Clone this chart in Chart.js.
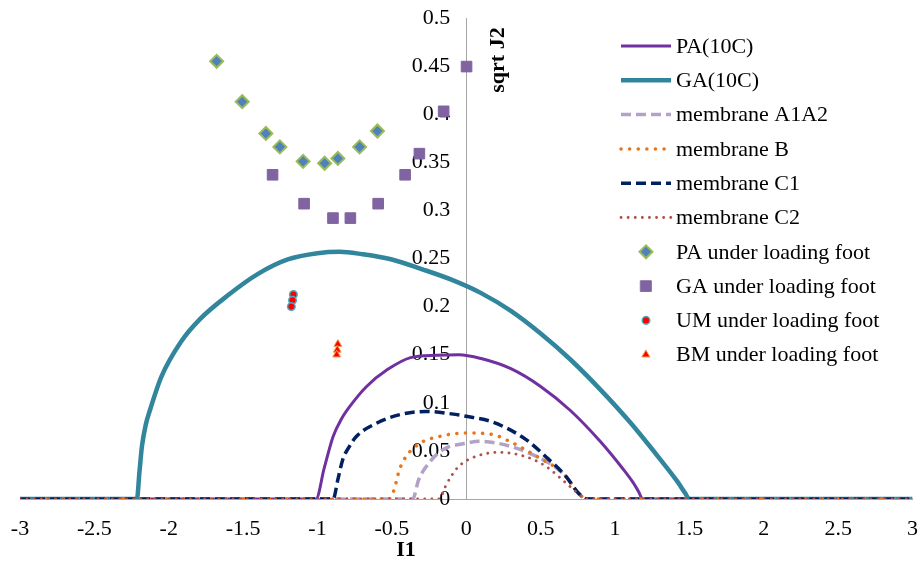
<!DOCTYPE html>
<html>
<head>
<meta charset="utf-8">
<script src="https://cdn.jsdelivr.net/npm/chart.js@4.4.1/dist/chart.umd.min.js"></script>
<style>
  html, body { margin: 0; padding: 0; background: #fff; }
  #chart { display: block; }
</style>
</head>
<body>
<canvas id="chart" width="921" height="563"></canvas>
<script>
// Yield curves (I1 -> sqrt J2)
const paCurveX = [-3, -1.01, -0.955, -0.895, -0.84, -0.784, -0.67, -0.53, -0.375, -0.2, -0.05, 0.1, 0.3, 0.5, 0.7, 0.9, 1.05, 1.12, 1.16, 1.185, 3];
const paCurveY = [0, 0, 0.032, 0.065, 0.083, 0.096, 0.117, 0.1345, 0.147, 0.1495, 0.15, 0.146, 0.1355, 0.117, 0.092, 0.06, 0.032, 0.0175, 0.0072, 0, 0];

const gaCurveX = [-3, -2.214, -2.197, -2.18, -2.155, -2.125, -2.05, -1.92, -1.79, -1.6, -1.4, -1.2, -1.0, -0.85, -0.7, -0.5, -0.3, -0.1, 0.1, 0.3, 0.5, 0.7, 0.9, 1.1, 1.3, 1.42, 1.47, 1.5, 3];
const gaCurveY = [0, 0, 0.028, 0.055, 0.077, 0.093, 0.127, 0.163, 0.187, 0.212, 0.234, 0.249, 0.2555, 0.257, 0.2545, 0.249, 0.239, 0.228, 0.214, 0.1955, 0.172, 0.145, 0.114, 0.08, 0.042, 0.018, 0.0065, 0, 0];

const a1a2X = [-3, -0.36, -0.32, -0.25, -0.16, 0, 0.09, 0.29, 0.49, 0.6, 0.67, 0.755, 0.81, 3];
const a1a2Y = [0, 0, 0.02, 0.0375, 0.051, 0.058, 0.06, 0.055, 0.043, 0.033, 0.0235, 0.006, 0, 0];

const memBX = [-3, -0.52, -0.485, -0.45, -0.405, -0.31, -0.18, 0, 0.177, 0.29, 0.4, 0.51, 0.6, 0.67, 0.755, 0.81, 3];
const memBY = [0, 0, 0.0097, 0.03, 0.044, 0.058, 0.065, 0.0687, 0.067, 0.06, 0.051, 0.041, 0.033, 0.0235, 0.006, 0, 0];

const c1X = [-3, -0.895, -0.862, -0.83, -0.784, -0.739, -0.6, -0.445, -0.27, -0.1, 0, 0.177, 0.4, 0.535, 0.67, 0.755, 0.81, 3];
const c1Y = [0, 0, 0.021, 0.041, 0.055, 0.065, 0.079, 0.0877, 0.091, 0.0885, 0.086, 0.08, 0.062, 0.044, 0.0235, 0.006, 0, 0];

const c2X = [-3, -0.18, -0.14, -0.1, -0.05, 0.06, 0.22, 0.4, 0.535, 0.67, 0.78, 0.8, 3];
const c2Y = [0, 0, 0.013, 0.024, 0.034, 0.044, 0.0485, 0.044, 0.034, 0.0167, 0.002, 0, 0];

// Measured stress states under the loading foot
const paFootX = [-1.678, -1.506, -1.347, -1.253, -1.097, -0.952, -0.863, -0.717, -0.597];
const paFootY = [0.455, 0.413, 0.38, 0.366, 0.351, 0.349, 0.354, 0.366, 0.3825];

const gaFootX = [-1.302, -1.09, -0.896, -0.779, -0.592, -0.411, -0.315, -0.152, 0.002];
const gaFootY = [0.337, 0.307, 0.292, 0.292, 0.307, 0.337, 0.359, 0.403, 0.4495];

const umFootX = [-1.162, -1.168, -1.176];
const umFootY = [0.2125, 0.2065, 0.2];

const bmFootX = [-0.863, -0.867, -0.871];
const bmFootY = [0.161, 0.155, 0.15];

const xMin = -3, xMax = 3, xStep = 0.5;
const yMin = 0, yMax = 0.5, yStep = 0.05;

const FONT = "'Liberation Serif', 'Times New Roman', serif";
const Y_LABEL_GAP = 16; // y tick labels sit left of the crossing axis

const toPoints = (xs, ys) => xs.map((x, i) => ({ x, y: ys[i] }));

const curve = (label, xs, ys, color, width, dash, cap) => ({
    label,
    data: toPoints(xs, ys),
    showLine: true,
    borderColor: color,
    backgroundColor: color,
    borderWidth: width,
    borderDash: dash || [],
    borderCapStyle: cap || 'butt',
    cubicInterpolationMode: 'monotone',
    pointRadius: 0,
    pointHoverRadius: 0,
    fill: false,
});

const markers = (label, xs, ys, style, radius, fillColor, borderColor, borderWidth) => ({
    label,
    data: toPoints(xs, ys),
    showLine: false,
    pointStyle: style,
    pointRadius: radius,
    pointHoverRadius: radius,
    backgroundColor: fillColor,
    borderColor: borderColor,
    pointBorderWidth: borderWidth,
    borderWidth: borderWidth,
});

const datasets = [
    curve('PA(10C)', paCurveX, paCurveY, '#7030A0', 3),
    curve('GA(10C)', gaCurveX, gaCurveY, '#31859C', 4.5),
    curve('membrane A1A2', a1a2X, a1a2Y, '#B3A2C7', 3.5, [10, 5]),
    curve('membrane B', memBX, memBY, '#E8751A', 3.5, [0.1, 8.5], 'round'),
    curve('membrane C1', c1X, c1Y, '#002060', 3.5, [10, 5]),
    curve('membrane C2', c2X, c2Y, '#B0504A', 2.8, [0.1, 7], 'round'),
    markers('PA under loading foot', paFootX, paFootY, 'rectRot', 6.5, '#4F81BD', '#9BBB59', 2),
    markers('GA under loading foot', gaFootX, gaFootY, 'rect', 7.5, '#8064A2', '#8064A2', 1),
    markers('UM under loading foot', umFootX, umFootY, 'circle', 3.8, '#FF0000', '#4BACC6', 1.5),
    markers('BM under loading foot', bmFootX, bmFootY, 'triangle', 4.5, '#FF0000', '#F79646', 1),
];

// later series on top, like the spreadsheet
datasets.forEach((ds, i) => { ds.order = datasets.length - i; });

// Chart.js puts labels of an axis placed by value right on the line; push them left
const yLabelShiftPlugin = {
    id: 'yLabelShift',
    afterLayout: (chart) => {
        const scale = chart.scales.y;
        scale.getLabelItems().forEach((item) => {
            item.options.translation[0] -= Y_LABEL_GAP;
        });
    },
};

// Legend sits inside the plot on the right, so it is drawn by hand
const legendPlugin = {
    id: 'insideLegend',
    afterDatasetsDraw: (chart) => {
        const ctx = chart.ctx;
        const lineX0 = 621, lineX1 = 671, textX = 676;
        const rowTop = 46, rowGap = 34.3;

        ctx.save();
        chart.data.datasets.forEach((ds, i) => {
            const y = rowTop + i * rowGap;

            if (ds.showLine) {
                ctx.beginPath();
                ctx.strokeStyle = ds.borderColor;
                ctx.lineWidth = ds.borderWidth;
                ctx.lineCap = ds.borderCapStyle;
                ctx.setLineDash(ds.borderDash);
                ctx.moveTo(lineX0, y);
                ctx.lineTo(lineX1, y);
                ctx.stroke();
                ctx.setLineDash([]);
            } else {
                ctx.fillStyle = ds.backgroundColor;
                ctx.strokeStyle = ds.borderColor;
                ctx.lineWidth = ds.borderWidth;
                Chart.helpers.drawPoint(ctx, {
                    pointStyle: ds.pointStyle,
                    radius: ds.pointRadius,
                    borderWidth: ds.borderWidth,
                    rotation: 0,
                }, (lineX0 + lineX1) / 2, y);
            }

            ctx.fillStyle = '#000';
            ctx.font = '22px ' + FONT;
            ctx.textAlign = 'left';
            ctx.textBaseline = 'middle';
            ctx.fillText(ds.label, textX, y + 1);
        });
        ctx.restore();
    },
};

// Axis titles sit in odd places (next to the crossing axis)
const axisTitlePlugin = {
    id: 'axisTitles',
    afterDraw: (chart) => {
        const ctx = chart.ctx;
        ctx.save();
        ctx.fillStyle = '#000';
        ctx.font = 'bold 22px ' + FONT;
        ctx.textAlign = 'center';
        ctx.textBaseline = 'middle';
        ctx.fillText('I1', 406, 550);

        ctx.translate(498, 60);
        ctx.rotate(-Math.PI / 2);
        ctx.fillText('sqrt J2', 0, 0);
        ctx.restore();
    },
};

const config = {
    type: 'scatter',
    data: { datasets },
    options: {
        responsive: false,
        animation: false,
        devicePixelRatio: 1,
        events: [],
        layout: {
            padding: { left: 20, right: 6, top: 18, bottom: 0 },
        },
        plugins: {
            legend: { display: false },
            tooltip: { enabled: false },
        },
        scales: {
            x: {
                type: 'linear',
                position: 'bottom',
                min: xMin,
                max: xMax,
                grid: { display: false, drawTicks: false },
                border: { display: true, color: '#A6A6A6', width: 1 },
                ticks: {
                    stepSize: xStep,
                    padding: 17,
                    color: '#000',
                    font: { family: FONT, size: 22 },
                    maxRotation: 0,
                    autoSkip: false,
                    callback: (v) => String(+v.toFixed(1)),
                },
                afterFit: (scale) => {
                    // the label padding should not eat into the plot width
                    scale.height = 64;
                    scale.paddingLeft = 0;
                    scale.paddingRight = 0;
                },
            },
            y: {
                type: 'linear',
                position: { x: 0 },
                min: yMin,
                max: yMax,
                grid: { display: false, drawTicks: false },
                border: { display: true, color: '#A6A6A6', width: 1 },
                ticks: {
                    stepSize: yStep,
                    padding: 0,
                    color: '#000',
                    font: { family: FONT, size: 22 },
                    autoSkip: false,
                    callback: (v) => String(+v.toFixed(2)),
                },
            },
        },
    },
    plugins: [yLabelShiftPlugin, legendPlugin, axisTitlePlugin],
};

const chart = new Chart(document.getElementById('chart').getContext('2d'), config);
</script>
</body>
</html>
